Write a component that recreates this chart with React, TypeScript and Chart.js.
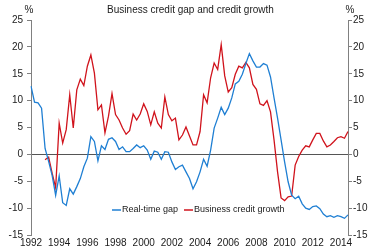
import React, { useEffect, useRef } from 'react';
import { Chart, registerables } from 'chart.js';

Chart.register(...registerables);

const chartTitle = 'Business credit gap and credit growth';
const unitLabel = '%';
const seriesNames = ['Real-time gap', 'Business credit growth'];
const seriesColors = ['#1f7fd3', '#d0131c'];

const firstYear = 1992;
const lastYear = 2014;
const lastQuarter = 3;

// Quarterly, 1992Q1 .. 2014Q3
const realTimeGap: (number | null)[] = [
  12.7, 9.7, 9.6, 8.6,
  1.1, -1.3, -3.9, -7.6,
  -4.0, -9.0, -9.5, -6.4,
  -7.4, -6.0, -4.5, -2.3,
  -0.7, 3.3, 2.4, -1.2,
  1.6, 0.9, 2.8, 3.1,
  2.4, 0.9, 1.4, 0.5,
  0.5, 1.1, 1.75, 1.25,
  1.6, 0.8, -0.9, 0.6,
  0.4, -0.9, 0.5, 0.4,
  -1.4, -2.8, -2.3, -2.0,
  -3.25, -4.5, -6.4, -5.1,
  -3.25, -0.9, -2.2, 0.8,
  4.9, 6.75, 8.75, 7.4,
  8.6, 10.5, 13.1, 13.6,
  14.9, 16.9, 18.75, 17.4,
  16.25, 16.25, 16.9, 16.6,
  14.4, 10.5, 6.75, 2.7,
  -1.4, -5.1, -7.6, -8.25,
  -7.8, -9.2, -10.0, -10.25,
  -9.7, -9.6, -10.1, -11.1,
  -11.6, -11.4, -11.7, -11.4,
  -11.6, -11.9, -11.25,
];

const businessCreditGrowth: (number | null)[] = [
  null, null, null, null,
  -1.0, -0.5, -3.5, -6.2,
  5.8, 2.1, 4.6, 11.1,
  4.9, 12.0, 14.0, 12.8,
  16.4, 18.5, 15.1, 8.3,
  9.2, 4.0, 7.1, 11.3,
  7.4, 6.4, 4.9, 3.75,
  4.4, 7.5, 6.4, 7.5,
  9.4, 8.0, 5.5, 7.9,
  5.8, 4.9, 10.7, 7.4,
  6.25, 6.75, 2.7, 3.6,
  5.1, 3.4, 1.75, 1.75,
  4.25, 11.1, 9.6, 14.25,
  17.0, 15.8, 20.4, 14.6,
  11.6, 12.4, 14.9, 16.4,
  16.1, 17.1, 16.1, 13.0,
  12.1, 9.4, 9.1, 10.0,
  7.9, 2.7, -3.25, -8.1,
  -8.6, -7.9, -7.75, -2.0,
  -0.4, 0.8, 1.6, 1.4,
  2.7, 3.9, 3.9, 2.5,
  1.4, 1.75, 2.4, 3.1,
  3.3, 3.0, 4.25,
];

const yearTickLabels = ['1992', '1994', '1996', '1998', '2000', '2002', '2004', '2006', '2008', '2010', '2012', '2014'];
const yMin = -15;
const yMax = 25;
const yStep = 5;

const quarterLabels: string[] = [];
for (let y = firstYear; y <= lastYear; y++) {
  for (let q = 1; q <= 4; q++) {
    if (y === lastYear && q > lastQuarter) break;
    quarterLabels.push(`${y}Q${q}`);
  }
}

const FONT = '"Liberation Sans", Arial, Helvetica, sans-serif';
const AXIS_COLOR = '#808080';
const ZERO_COLOR = '#555555';
const TEXT_COLOR = '#1a1a1a';

const decorPlugin = {
  id: 'decor',
  afterDatasetsDraw(chart: any) {
    const { ctx, chartArea } = chart;
    ctx.save();
    ctx.fillStyle = TEXT_COLOR;
    ctx.font = `10px ${FONT}`;
    ctx.textBaseline = 'middle';
    ctx.textAlign = 'center';
    ctx.fillText(chartTitle, (chartArea.left + chartArea.right) / 2 + 1, 10);
    ctx.fillText(unitLabel, chartArea.left - 2, 10);
    ctx.fillText(unitLabel, chartArea.right + 2, 10);

    // legend
    ctx.font = `9px ${FONT}`;
    ctx.textAlign = 'left';
    const ly = 210;
    const items = [
      { x: 112, name: seriesNames[0], color: seriesColors[0] },
      { x: 184, name: seriesNames[1], color: seriesColors[1] },
    ];
    for (const it of items) {
      ctx.strokeStyle = it.color;
      ctx.lineWidth = 1.5;
      ctx.beginPath();
      ctx.moveTo(it.x, ly);
      ctx.lineTo(it.x + 9, ly);
      ctx.stroke();
      ctx.fillStyle = TEXT_COLOR;
      ctx.fillText(it.name, it.x + 10, ly);
    }
    ctx.restore();
  },
};

export default function App() {
  const canvasRef = useRef<HTMLCanvasElement | null>(null);

  useEffect(() => {
    const canvas = canvasRef.current;
    if (!canvas) return;
    const tickFont = { family: FONT, size: 10 };
    const chart = new Chart(canvas, {
      type: 'line',
      data: {
        labels: quarterLabels,
        datasets: [
          {
            label: seriesNames[0],
            data: realTimeGap,
            borderColor: seriesColors[0],
            backgroundColor: seriesColors[0],
            borderWidth: 1.3,
            pointRadius: 0,
            tension: 0,
            yAxisID: 'y',
          },
          {
            label: seriesNames[1],
            data: businessCreditGrowth,
            borderColor: seriesColors[1],
            backgroundColor: seriesColors[1],
            borderWidth: 1.3,
            pointRadius: 0,
            tension: 0,
            yAxisID: 'y',
          },
        ],
      },
      options: {
        responsive: false,
        animation: false,
        devicePixelRatio: 1,
        layout: { padding: { top: 20, left: 0, right: 0, bottom: 0 } },
        plugins: {
          legend: { display: false },
          title: { display: false },
          tooltip: { enabled: false },
        },
        scales: {
          x: {
            type: 'category',
            offset: false,
            afterFit: (s: any) => { s.height = 15; },
            border: { display: false },
            grid: { display: false, drawTicks: false, tickLength: 0 },
            ticks: {
              autoSkip: false,
              maxRotation: 0,
              minRotation: 0,
              padding: 2,
              color: TEXT_COLOR,
              font: tickFont,
              callback: (v: any) => {
                const l = quarterLabels[v as number];
                const yr = l.slice(0, 4);
                return l.endsWith('Q1') && yearTickLabels.includes(yr) ? yr : null;
              },
            },
          },
          y: {
            type: 'linear',
            position: 'left',
            min: yMin,
            max: yMax,
            afterFit: (s: any) => { s.width = 31; },
            border: { display: true, color: AXIS_COLOR, width: 1 },
            grid: {
              drawOnChartArea: true,
              drawTicks: true,
              tickLength: 4,
              tickColor: AXIS_COLOR,
              color: (c: any) => (c.tick && c.tick.value === 0 ? ZERO_COLOR : 'rgba(0,0,0,0)'),
              lineWidth: 1,
            },
            ticks: { stepSize: yStep, padding: 4, color: TEXT_COLOR, font: tickFont },
          },
          y2: {
            type: 'linear',
            position: 'right',
            min: yMin,
            max: yMax,
            afterFit: (s: any) => { s.width = 25; },
            border: { display: true, color: AXIS_COLOR, width: 1 },
            grid: {
              drawOnChartArea: false,
              drawTicks: true,
              tickLength: 4,
              tickColor: AXIS_COLOR,
            },
            ticks: { stepSize: yStep, padding: 1, color: TEXT_COLOR, font: tickFont },
          },
        },
      } as any,
      plugins: [decorPlugin],
    });
    return () => chart.destroy();
  }, []);

  return (
    <div style={{ position: 'fixed', left: 0, top: 0, width: 373, height: 250, background: '#fff' }}>
      <canvas ref={canvasRef} width={373} height={250} />
    </div>
  );
}
